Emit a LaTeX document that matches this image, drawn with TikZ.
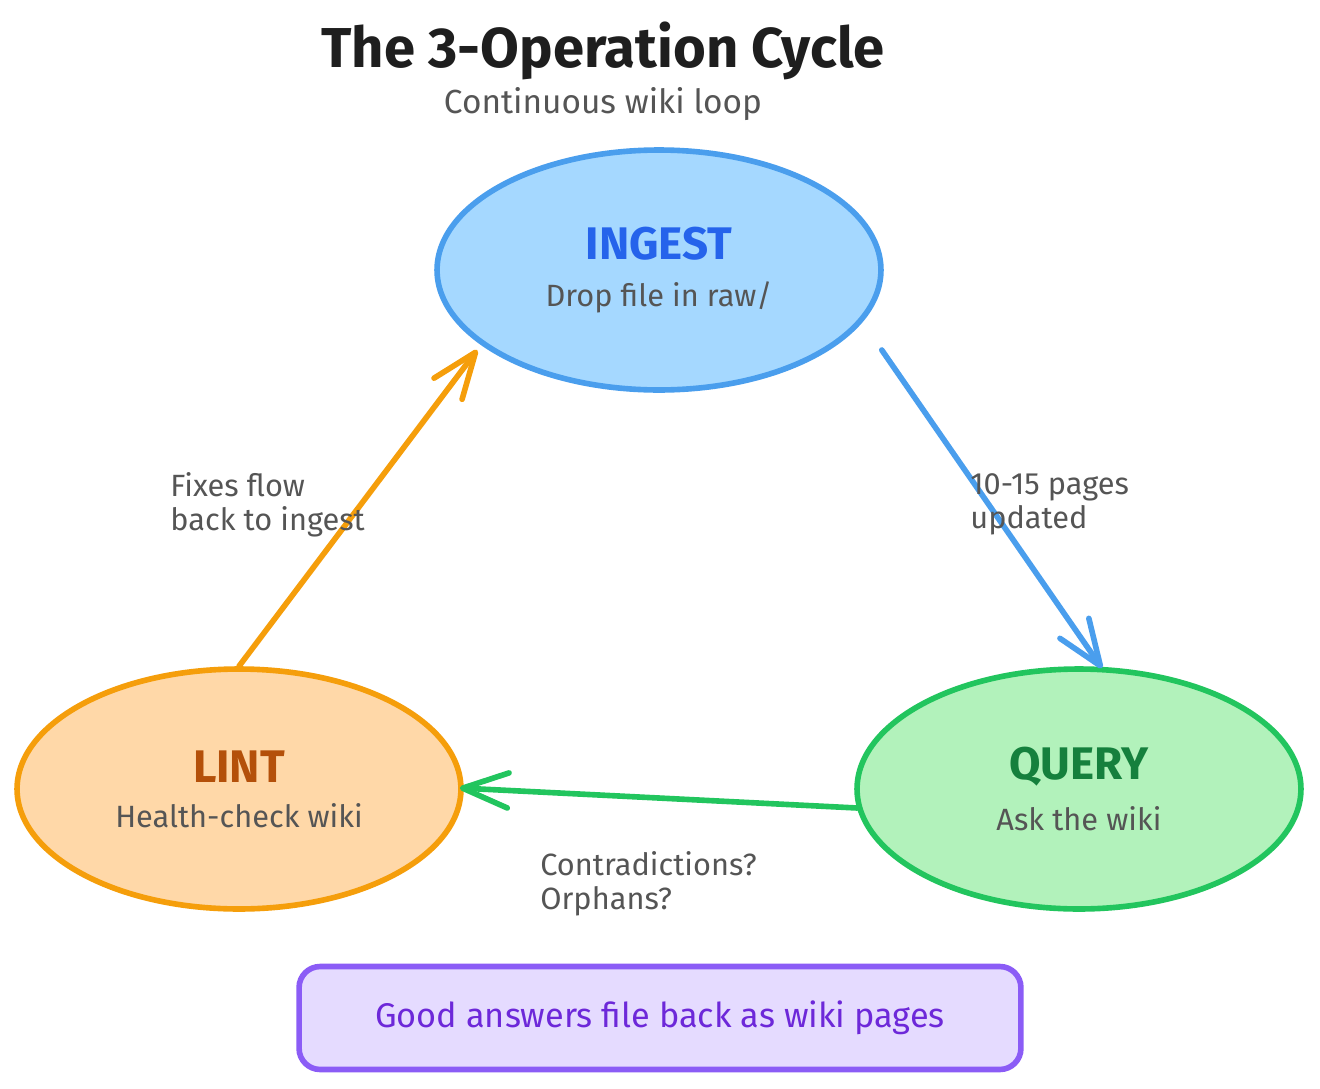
\documentclass[tikz,border=0pt]{standalone}
\usepackage{fontspec}
\setmainfont{Fira Sans}
\usetikzlibrary{shapes.geometric,arrows.meta,calc}
\definecolor{ingestfill}{HTML}{A5D8FF}
\definecolor{ingestline}{HTML}{4A9EED}
\definecolor{ingesttext}{HTML}{2563EB}
\definecolor{lintfill}{HTML}{FFD8A8}
\definecolor{lintline}{HTML}{F59E0B}
\definecolor{linttext}{HTML}{B4500A}
\definecolor{queryfill}{HTML}{B2F2BB}
\definecolor{queryline}{HTML}{22C55E}
\definecolor{querytext}{HTML}{15803D}
\definecolor{notefill}{HTML}{E5DBFF}
\definecolor{noteline}{HTML}{8B5CF6}
\definecolor{notetext}{HTML}{6D28D9}
\definecolor{graytext}{HTML}{555555}
\definecolor{titletext}{HTML}{1E1E1E}
\tikzset{
  opnode/.style={ellipse, line width=3.2pt, minimum width=8.88cm, minimum height=4.8cm, align=center, inner sep=0pt},
  flow/.style={line width=3.2pt, line cap=round, line join=round, -{Straight Barb[length=26pt, width=20pt, round]}},
  lbl/.style={font=\fontsize{17.5}{19.5}\selectfont, text=graytext, align=left, anchor=north west, inner sep=0pt}
}
\begin{document}
\begin{tikzpicture}[x=0.02cm, y=-0.02cm]
\useasboundingbox (0,0) rectangle (1320,1089);
\node[font=\fontsize{32}{36}\selectfont\bfseries, text=titletext] (title) at (603,51) {The 3-Operation Cycle};
\node[font=\fontsize{19}{22}\selectfont, text=graytext] (subtitle) at (603,104) {Continuous wiki loop};

\node[opnode, draw=ingestline, fill=ingestfill] (ingest) at (659,270)
  {\textcolor{ingesttext}{\fontsize{26}{30}\selectfont\bfseries INGEST}\\[11pt]
   \textcolor{graytext}{\fontsize{17.5}{20}\selectfont Drop file in raw/}};
\node[opnode, draw=lintline, fill=lintfill] (lint) at (239,789)
  {\textcolor{linttext}{\fontsize{26}{30}\selectfont\bfseries LINT}\\[11pt]
   \textcolor{graytext}{\fontsize{17.5}{20}\selectfont Health-check wiki}};
\node[opnode, draw=queryline, fill=queryfill] (query) at (1079,789)
  {\textcolor{querytext}{\fontsize{26}{30}\selectfont\bfseries QUERY}\\[11pt]
   \textcolor{graytext}{\fontsize{17.5}{20}\selectfont Ask the wiki}};

\draw[flow, draw=ingestline] ($(ingest.east)+(-2,80)$) -- ($(query.north)+(23,2)$);
\draw[flow, draw=queryline] ($(query.west)+(3,19)$) -- ($(lint.east)+(-4,-1)$);
\draw[flow, draw=lintline] (lint.north) -- ($(ingest.west)+(43,80)$);

\node[lbl] (lblfix) at (170,472) {Fixes flow\\back to ingest};
\node[lbl] (lblpages) at (970,473) {10-15 pages\\updated};
\node[lbl] (lblcontra) at (540,851) {Contradictions?\\Orphans?};

\node[draw=noteline, fill=notefill, line width=3.2pt, rounded corners=12pt,
      minimum width=14.44cm, minimum height=2.06cm, text=notetext,
      font=\fontsize{19.5}{22}\selectfont] (note) at (660,1018) {Good answers file back as wiki pages};
\end{tikzpicture}
\end{document}
